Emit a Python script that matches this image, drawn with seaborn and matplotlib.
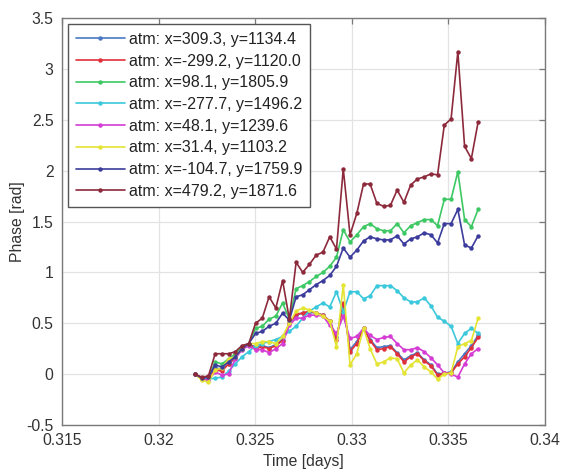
import matplotlib
matplotlib.use("Agg")
import matplotlib.pyplot as plt
import seaborn as sns
import pandas as pd

time_days = [0.32188, 0.32223, 0.32258, 0.32293, 0.32328, 0.32363, 0.32397, 0.32432,
             0.32467, 0.32502, 0.32537, 0.32572, 0.32607, 0.32642, 0.32677, 0.32712,
             0.32746, 0.32781, 0.32816, 0.32851, 0.32886, 0.32921, 0.32956, 0.32991,
             0.33026, 0.33061, 0.33095, 0.33130, 0.33165, 0.33200, 0.33235, 0.33270,
             0.33305, 0.33340, 0.33375, 0.33410, 0.33444, 0.33479, 0.33514, 0.33549,
             0.33584, 0.33619, 0.33654]

labels = ["atm: x=309.3, y=1134.4", "atm: x=-299.2, y=1120.0", "atm: x=98.1, y=1805.9",
          "atm: x=-277.7, y=1496.2", "atm: x=48.1, y=1239.6", "atm: x=31.4, y=1103.2",
          "atm: x=-104.7, y=1759.9", "atm: x=479.2, y=1871.6"]

phase_blue = [0, -0.04, -0.03, 0.06, 0.05, 0.10, 0.16, 0.25, 0.29, 0.27, 0.28, 0.26, 0.29, 0.34,
              0.50, 0.58, 0.60, 0.61, 0.60, 0.58, 0.52, 0.36, 0.68, 0.24, 0.32, 0.45, 0.34, 0.26,
              0.27, 0.28, 0.21, 0.14, 0.18, 0.21, 0.14, 0.09, 0.00, 0.01, 0.02, 0.12, 0.20, 0.28, 0.38]
phase_red = [0, -0.04, -0.04, 0.04, 0.03, 0.10, 0.16, 0.25, 0.30, 0.25, 0.27, 0.25, 0.28, 0.33,
             0.50, 0.59, 0.60, 0.62, 0.60, 0.58, 0.52, 0.34, 0.70, 0.22, 0.30, 0.45, 0.33, 0.24,
             0.25, 0.27, 0.20, 0.12, 0.17, 0.20, 0.13, 0.08, -0.01, 0.01, 0.01, 0.10, 0.17, 0.26, 0.36]
phase_green = [0, -0.05, -0.04, 0.12, 0.10, 0.15, 0.20, 0.27, 0.30, 0.45, 0.47, 0.54, 0.57, 0.70,
               0.54, 0.84, 0.87, 0.91, 0.96, 1.00, 1.06, 1.15, 1.42, 1.30, 1.37, 1.45, 1.48, 1.43,
               1.41, 1.41, 1.48, 1.39, 1.46, 1.49, 1.52, 1.52, 1.46, 1.72, 1.72, 1.99, 1.52, 1.45, 1.62]
phase_cyan = [0, -0.04, -0.05, -0.04, -0.03, 0.03, 0.10, 0.17, 0.22, 0.28, 0.30, 0.32, 0.34, 0.37,
              0.42, 0.47, 0.55, 0.62, 0.66, 0.70, 0.66, 0.81, 0.61, 0.81, 0.81, 0.74, 0.77, 0.87,
              0.87, 0.87, 0.82, 0.75, 0.71, 0.71, 0.75, 0.67, 0.56, 0.52, 0.47, 0.30, 0.40, 0.45, 0.40]
phase_magenta = [0, -0.05, -0.06, 0.02, -0.01, 0.00, 0.15, 0.24, 0.28, 0.24, 0.24, 0.21, 0.25, 0.30,
                 0.48, 0.55, 0.55, 0.58, 0.58, 0.57, 0.48, 0.40, 0.57, 0.35, 0.37, 0.45, 0.38, 0.34,
                 0.36, 0.37, 0.30, 0.24, 0.24, 0.26, 0.22, 0.16, 0.09, 0.01, 0.00, -0.03, 0.10, 0.20, 0.25]
phase_yellow = [0, -0.06, -0.08, 0.04, 0.06, 0.15, 0.17, 0.25, 0.30, 0.30, 0.32, 0.32, 0.30, 0.37,
                0.50, 0.62, 0.65, 0.63, 0.60, 0.57, 0.52, 0.27, 0.88, 0.09, 0.20, 0.45, 0.25, 0.10,
                0.12, 0.16, 0.15, 0.01, 0.09, 0.14, 0.07, 0.02, -0.05, 0.00, 0.01, 0.27, 0.30, 0.33, 0.55]
phase_navy = [0, -0.04, -0.03, 0.09, 0.07, 0.12, 0.17, 0.25, 0.30, 0.40, 0.42, 0.47, 0.50, 0.60,
              0.53, 0.76, 0.78, 0.83, 0.88, 0.92, 0.97, 1.06, 1.24, 1.15, 1.22, 1.31, 1.35, 1.33,
              1.32, 1.32, 1.36, 1.28, 1.33, 1.35, 1.39, 1.37, 1.29, 1.48, 1.48, 1.62, 1.27, 1.24, 1.36]
phase_brown = [0, -0.03, -0.02, 0.20, 0.20, 0.20, 0.22, 0.28, 0.30, 0.50, 0.55, 0.76, 0.65, 0.92,
               0.54, 1.10, 1.00, 1.08, 1.17, 1.20, 1.35, 1.23, 2.02, 1.37, 1.58, 1.87, 1.87, 1.68,
               1.65, 1.66, 1.81, 1.69, 1.86, 1.92, 1.94, 1.97, 1.96, 2.45, 2.51, 3.17, 2.24, 2.12, 2.48]

series = [phase_blue, phase_red, phase_green, phase_cyan, phase_magenta,
          phase_yellow, phase_navy, phase_brown]
colors = ["#4a78c4", "#e0303c", "#3ec864", "#3cc8dc", "#d43cd4", "#e4e434", "#3c3c9c", "#8c2a3c"]

x_ticks = [0.315, 0.32, 0.325, 0.33, 0.335, 0.34]
x_tick_labels = ["0.315", "0.32", "0.325", "0.33", "0.335", "0.34"]
y_ticks = [-0.5, 0, 0.5, 1, 1.5, 2, 2.5, 3, 3.5]
y_tick_labels = ["-0.5", "0", "0.5", "1", "1.5", "2", "2.5", "3", "3.5"]

rows = []
for lab, vals in zip(labels, series):
    for t, v in zip(time_days, vals):
        rows.append({"time": t, "phase": v, "station": lab})
df = pd.DataFrame(rows)

sns.set_style("white")
plt.rcParams["font.family"] = ["Liberation Sans", "DejaVu Sans"]

fig = plt.figure(figsize=(5.63, 4.70), dpi=100)
ax = fig.add_axes([0.110, 0.096, 0.858, 0.865])

sns.lineplot(data=df, x="time", y="phase", hue="station", hue_order=labels,
             palette=colors, marker="o", markersize=3.2, markeredgewidth=0,
             linewidth=1.2, estimator=None, sort=False, ax=ax)

ax.set_xlim(0.315, 0.34)
ax.set_ylim(-0.5, 3.5)
ax.set_xticks(x_ticks)
ax.set_xticklabels(x_tick_labels)
ax.set_yticks(y_ticks)
ax.set_yticklabels(y_tick_labels)
ax.grid(True, color="#e3e3e3", linewidth=0.9)
ax.set_axisbelow(True)
for sp in ax.spines.values():
    sp.set_color("#7a7a7a")
    sp.set_linewidth(1.0)
ax.tick_params(direction="in", length=4, width=0.9, color="#7a7a7a",
               labelsize=11.3, labelcolor="#333333", top=True, right=True)
ax.tick_params(axis="x", pad=6)
ax.tick_params(axis="y", pad=6)
ax.set_xlabel("Time [days]", fontsize=11.3, color="#333333", labelpad=4)
ax.set_ylabel("Phase [rad]", fontsize=11.3, color="#333333", labelpad=1)

leg = ax.legend(loc="upper left", fontsize=11.5, frameon=True, fancybox=False,
                labelspacing=0.42, handlelength=3.1, handletextpad=0.25,
                borderpad=0.5, borderaxespad=0.35, framealpha=1)
leg.get_frame().set_edgecolor("#555555")
leg.get_frame().set_linewidth(1.0)
for txt in leg.get_texts():
    txt.set_color("#222222")

fig.savefig("out.png", dpi=100)
